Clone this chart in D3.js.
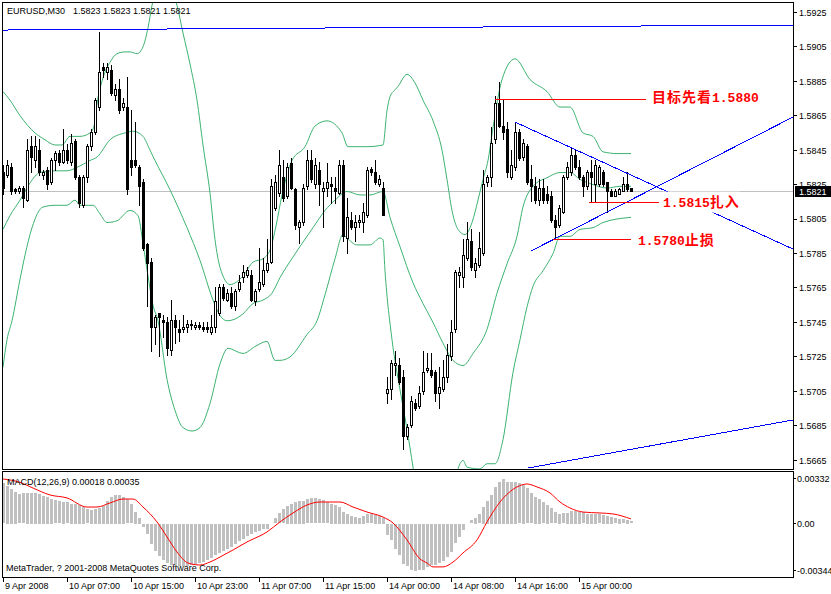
<!DOCTYPE html>
<html><head><meta charset="utf-8">
<script src="https://cdn.jsdelivr.net/npm/d3@7"></script>
<style>
html,body{margin:0;padding:0;background:#fff;}
svg{display:block;}
text{font-family:"Liberation Sans",Arial,sans-serif;}
</style></head><body>
<svg id="chart" width="831" height="594"></svg>
<script>
// ---------------- DATA ----------------
const symbol = "EURUSD,M30";
const opens = [1.5832,1.5830,1.5835,1.5822,1.5821,1.5823,1.5816,1.5847,1.5839,1.5845,1.5830,1.5833,1.5826,1.5839,1.5843,1.5838,1.5845,1.5838,1.5850,1.5829,1.5813,1.5829,1.5847,1.5855,1.5870,1.5893,1.5890,1.5891,1.5877,1.5880,1.5870,1.5870,1.5839,1.5839,1.5835,1.5826,1.5790,1.5780,1.5742,1.5750,1.5746,1.5745,1.5729,1.5746,1.5741,1.5741,1.5742,1.5743,1.5742,1.5743,1.5742,1.5742,1.5739,1.5742,1.5750,1.5765,1.5758,1.5762,1.5754,1.5764,1.5771,1.5772,1.5772,1.5757,1.5764,1.5767,1.5775,1.5780,1.5811,1.5820,1.5829,1.5818,1.5837,1.5822,1.5800,1.5803,1.5824,1.5839,1.5825,1.5833,1.5821,1.5823,1.5825,1.5823,1.5820,1.5836,1.5794,1.5804,1.5800,1.5803,1.5803,1.5807,1.5834,1.5832,1.5825,1.5823,1.5704,1.5706,1.5720,1.5720,1.5713,1.5679,1.5685,1.5698,1.5696,1.5705,1.5717,1.5717,1.5716,1.5704,1.5706,1.5713,1.5725,1.5741,1.5772,1.5771,1.5782,1.5792,1.5775,1.5778,1.5785,1.5826,1.5829,1.5851,1.5872,1.5859,1.5857,1.5829,1.5835,1.5855,1.5841,1.5847,1.5828,1.5824,1.5816,1.5823,1.5819,1.5818,1.5804,1.5801,1.5809,1.5829,1.5832,1.5842,1.5835,1.5829,1.5824,1.5832,1.5825,1.5825,1.5832,1.5826,1.5821,1.5818,1.5819,1.5821,1.5825,1.5823];
const highs = [1.5836,1.5839,1.5837,1.5823,1.5824,1.5824,1.5851,1.5853,1.5853,1.5851,1.5833,1.5835,1.5840,1.5844,1.5845,1.5857,1.5848,1.5854,1.5851,1.5830,1.5830,1.5848,1.5857,1.5875,1.5913,1.5895,1.5895,1.5894,1.5883,1.5886,1.5875,1.5887,1.5868,1.5861,1.5836,1.5828,1.5791,1.5782,1.5749,1.5750,1.5749,1.5748,1.5758,1.5749,1.5746,1.5749,1.5746,1.5746,1.5745,1.5745,1.5745,1.5745,1.5749,1.5765,1.5767,1.5767,1.5764,1.5765,1.5764,1.5772,1.5778,1.5777,1.5775,1.5764,1.5788,1.5782,1.5793,1.5828,1.5830,1.5845,1.5839,1.5837,1.5840,1.5823,1.5804,1.5825,1.5845,1.5845,1.5840,1.5838,1.5826,1.5837,1.5829,1.5829,1.5839,1.5839,1.5817,1.5809,1.5807,1.5807,1.5814,1.5835,1.5835,1.5839,1.5830,1.5826,1.5713,1.5723,1.5728,1.5724,1.5717,1.5686,1.5702,1.5700,1.5708,1.5728,1.5727,1.5727,1.5717,1.5719,1.5723,1.5732,1.5746,1.5775,1.5777,1.5793,1.5803,1.5799,1.5782,1.5797,1.5833,1.5830,1.5858,1.5876,1.5884,1.5874,1.5861,1.5845,1.5861,1.5857,1.5851,1.5848,1.5836,1.5829,1.5828,1.5828,1.5824,1.5821,1.5807,1.5813,1.5830,1.5838,1.5846,1.5845,1.5839,1.5830,1.5833,1.5839,1.5839,1.5836,1.5833,1.5826,1.5822,1.5822,1.5823,1.5829,1.5832,1.5823];
const lows = [1.5819,1.5829,1.5819,1.5820,1.5820,1.5812,1.5815,1.5832,1.5835,1.5830,1.5828,1.5822,1.5825,1.5833,1.5836,1.5837,1.5837,1.5836,1.5828,1.5812,1.5812,1.5826,1.5845,1.5854,1.5868,1.5887,1.5886,1.5877,1.5874,1.5866,1.5868,1.5819,1.5830,1.5835,1.5813,1.5787,1.5754,1.5728,1.5732,1.5725,1.5736,1.5726,1.5726,1.5733,1.5734,1.5739,1.5739,1.5741,1.5741,1.5741,1.5740,1.5739,1.5738,1.5739,1.5749,1.5758,1.5757,1.5753,1.5752,1.5763,1.5768,1.5771,1.5757,1.5755,1.5763,1.5766,1.5774,1.5779,1.5810,1.5818,1.5815,1.5817,1.5822,1.5799,1.5791,1.5801,1.5822,1.5826,1.5823,1.5813,1.5800,1.5818,1.5814,1.5814,1.5819,1.5792,1.5785,1.5799,1.5792,1.5800,1.5797,1.5806,1.5830,1.5825,1.5824,1.5807,1.5698,1.5700,1.5714,1.5709,1.5671,1.5677,1.5684,1.5694,1.5695,1.5703,1.5716,1.5713,1.5699,1.5695,1.5705,1.5710,1.5723,1.5739,1.5765,1.5765,1.5781,1.5775,1.5771,1.5777,1.5784,1.5824,1.5824,1.5849,1.5858,1.5851,1.5829,1.5828,1.5833,1.5839,1.5839,1.5825,1.5815,1.5814,1.5813,1.5814,1.5814,1.5803,1.5793,1.5800,1.5808,1.5828,1.5830,1.5834,1.5828,1.5818,1.5822,1.5815,1.5815,1.5824,1.5824,1.5809,1.5818,1.5818,1.5819,1.5821,1.5821,1.5821];
const closes = [1.5823,1.5836,1.5821,1.5821,1.5823,1.5817,1.5845,1.5841,1.5847,1.5832,1.5832,1.5825,1.5839,1.5843,1.5838,1.5845,1.5839,1.5849,1.5829,1.5814,1.5829,1.5847,1.5855,1.5874,1.5890,1.5891,1.5893,1.5878,1.5880,1.5868,1.5872,1.5822,1.5835,1.5836,1.5824,1.5788,1.5779,1.5742,1.5748,1.5748,1.5745,1.5730,1.5746,1.5742,1.5739,1.5742,1.5744,1.5744,1.5743,1.5742,1.5741,1.5741,1.5742,1.5757,1.5765,1.5759,1.5762,1.5754,1.5763,1.5768,1.5774,1.5775,1.5758,1.5763,1.5768,1.5775,1.5779,1.5824,1.5826,1.5836,1.5817,1.5835,1.5823,1.5801,1.5803,1.5823,1.5839,1.5828,1.5836,1.5825,1.5823,1.5826,1.5824,1.5821,1.5836,1.5795,1.5806,1.5800,1.5803,1.5804,1.5809,1.5833,1.5832,1.5826,1.5828,1.5807,1.5706,1.5721,1.5721,1.5710,1.5679,1.5684,1.5699,1.5695,1.5704,1.5716,1.5718,1.5714,1.5704,1.5707,1.5713,1.5726,1.5739,1.5774,1.5774,1.5784,1.5793,1.5777,1.5779,1.5788,1.5825,1.5829,1.5849,1.5872,1.5859,1.5855,1.5832,1.5836,1.5855,1.5840,1.5849,1.5826,1.5824,1.5816,1.5823,1.5816,1.5816,1.5804,1.5800,1.5811,1.5829,1.5835,1.5842,1.5835,1.5829,1.5824,1.5832,1.5829,1.5836,1.5835,1.5825,1.5821,1.5818,1.5821,1.5822,1.5825,1.5822,1.5821];

const timeLabels = ["9 Apr 2008","10 Apr 07:00","10 Apr 15:00","10 Apr 23:00","11 Apr 07:00","11 Apr 15:00","14 Apr 00:00","14 Apr 08:00","14 Apr 16:00","15 Apr 00:00"];
const timeLabelBars = [0,16,32,48,64,80,96,112,128,144];
const priceTicks = [1.5925,1.5905,1.5885,1.5865,1.5845,1.5825,1.5805,1.5785,1.5765,1.5745,1.5725,1.5705,1.5685,1.5665];

// Bollinger bands: [bar, price]
const bbUpper = [[0,1.5879],[1.75,1.5874],[4.25,1.5865],[8,1.5855],[10.5,1.5851],[13,1.5848],[14.75,1.5848],[16.75,1.5853],[19.25,1.5853],[21.75,1.5855],[22.75,1.5859],[23.5,1.5872],[25,1.5887],[26.75,1.5896],[28.5,1.5901],[30.5,1.5902],[31.75,1.5902],[33.5,1.5901],[35,1.5905],[36.25,1.5916],[37.25,1.5929],[38.25,1.5938],[40.5,1.5947],[42.25,1.5938],[43.5,1.5929],[45,1.5913],[46.75,1.5895],[48.5,1.5874],[50,1.5848],[51.75,1.5820],[53,1.5793],[54.25,1.5777],[56.75,1.5767],[60,1.5772],[62.5,1.5780],[65,1.5782],[66.75,1.5787],[68.25,1.5801],[69.75,1.5819],[72.25,1.5839],[75.5,1.5847],[78,1.5859],[81,1.5862],[84.75,1.5855],[86.25,1.5847],[91,1.5847],[95,1.5848],[96,1.5868],[96.75,1.5876],[98,1.5880],[98.75,1.5882],[101,1.5889],[103,1.5884],[105,1.5874],[107.5,1.5862],[109.75,1.5845],[111,1.5828],[112.25,1.5810],[113.75,1.5799],[115.5,1.5796],[117.25,1.5803],[118.75,1.5816],[120,1.5828],[121.25,1.5839],[122.5,1.5858],[124.75,1.5886],[128,1.5898],[131.75,1.5886],[136,1.5879],[139.25,1.5870],[141.75,1.5870],[145,1.5855],[147.5,1.5853],[150,1.5844],[153.75,1.5843],[157,1.5843]];
const bbMiddle = [[0,1.5799],[1.75,1.5807],[4.25,1.5816],[6.75,1.5826],[9.25,1.5832],[13,1.5833],[16,1.5833],[18.5,1.5835],[21.75,1.5839],[23.5,1.5841],[26.75,1.5851],[30.5,1.5855],[32.5,1.5856],[35,1.5853],[36.75,1.5845],[38,1.5839],[41.75,1.5822],[46,1.5800],[49.25,1.5781],[52.5,1.5758],[54.25,1.5749],[56,1.5746],[58,1.5747],[60,1.5750],[62.5,1.5756],[65,1.5758],[67.25,1.5762],[69.25,1.5771],[72.5,1.5783],[77.5,1.5800],[80.5,1.5810],[83,1.5816],[86,1.5821],[89.25,1.5819],[91.75,1.5819],[95,1.5821],[96.75,1.5806],[99.25,1.5789],[102.5,1.5768],[105,1.5756],[107.5,1.5745],[110,1.5733],[112.5,1.5723],[115,1.5720],[117.5,1.5727],[121,1.5741],[123.5,1.5762],[126,1.5779],[128.5,1.5795],[130,1.5812],[132.5,1.5824],[136,1.5829],[139.25,1.5832],[141.75,1.5832],[144.25,1.5828],[147.5,1.5825],[151,1.5823],[154.25,1.5824],[157,1.5824]];
const bbLower = [[0,1.5719],[1,1.5735],[2.25,1.5746],[4.25,1.5770],[5.5,1.5784],[7.25,1.5800],[10,1.5812],[13,1.5813],[16,1.5813],[18,1.5816],[19.25,1.5813],[22.5,1.5813],[24.25,1.5808],[26,1.5803],[28.5,1.5804],[31.75,1.5810],[33.75,1.5807],[35,1.5791],[36.25,1.5772],[37.5,1.5755],[38.75,1.5746],[41,1.5712],[43,1.5694],[45,1.5684],[47.25,1.5682],[49.25,1.5684],[51.75,1.5698],[54.25,1.5721],[56.25,1.5730],[60,1.5727],[63,1.5731],[66,1.5734],[68,1.5723],[69.25,1.5723],[71.75,1.5725],[76,1.5738],[78.5,1.5746],[80.5,1.5761],[83,1.5782],[85,1.5796],[86,1.5794],[88.5,1.5790],[91.75,1.5790],[94.25,1.5794],[95,1.5793],[95.5,1.5775],[97.25,1.5735],[99.25,1.5706],[101,1.5683],[102.5,1.5661],[103.75,1.5642],[106.75,1.5619],[110.5,1.5630],[113,1.5654],[114.25,1.5663],[115,1.5665],[116,1.5661],[119.25,1.5660],[121,1.5663],[123,1.5663],[125,1.5677],[127.5,1.5716],[129.25,1.5735],[131,1.5754],[132.5,1.5766],[135,1.5775],[137.5,1.5785],[139.25,1.5795],[141.75,1.5795],[144.25,1.5799],[147.5,1.5800],[150,1.5803],[157,1.5806]];

// MACD(12,26,9): main values drawn as histogram, signal as line
const macdMain = [0.00298,0.00280,0.00256,0.00236,0.00216,0.00224,0.00226,0.00226,0.00226,0.00221,0.00207,0.00197,0.00184,0.00172,0.00165,0.00162,0.00157,0.00148,0.00145,0.00138,0.00123,0.00106,0.00101,0.00108,0.00118,0.00133,0.00167,0.00197,0.00211,0.00211,0.00197,0.00180,0.00143,0.00089,0.00044,-0.00025,-0.00076,-0.00145,-0.00202,-0.00236,-0.00266,-0.00285,-0.00300,-0.00305,-0.00310,-0.00312,-0.00312,-0.00305,-0.00295,-0.00290,-0.00278,-0.00266,-0.00253,-0.00231,-0.00211,-0.00197,-0.00182,-0.00167,-0.00148,-0.00128,-0.00108,-0.00089,-0.00074,-0.00059,-0.00049,-0.00039,-0.00034,0.00002,0.00039,0.00076,0.00106,0.00133,0.00145,0.00162,0.00170,0.00167,0.00180,0.00187,0.00187,0.00180,0.00172,0.00157,0.00148,0.00138,0.00123,0.00089,0.00074,0.00059,0.00049,0.00044,0.00059,0.00069,0.00069,0.00064,0.00059,0.00044,-0.00079,-0.00120,-0.00182,-0.00231,-0.00293,-0.00310,-0.00338,-0.00344,-0.00340,-0.00336,-0.00317,-0.00305,-0.00300,-0.00285,-0.00270,-0.00243,-0.00207,-0.00138,-0.00096,-0.00047,0.00003,0.00025,0.00044,0.00069,0.00123,0.00167,0.00211,0.00270,0.00310,0.00330,0.00310,0.00310,0.00310,0.00298,0.00285,0.00261,0.00224,0.00199,0.00182,0.00157,0.00138,0.00113,0.00084,0.00074,0.00076,0.00079,0.00093,0.00093,0.00089,0.00084,0.00074,0.00074,0.00074,0.00069,0.00064,0.00059,0.00052,0.00039,0.00034,0.00032,0.00027,0.00018];
const macdSignal = [[0,0.00330],[4.25,0.00305],[7.5,0.00263],[11.75,0.00212],[16,0.00190],[21,0.00123],[23.5,0.00123],[26.75,0.00153],[30,0.00182],[32.5,0.00182],[35,0.00123],[38.5,0.00013],[41,-0.00098],[43.5,-0.00209],[46.25,-0.00290],[49.25,-0.00305],[51.75,-0.00283],[54.25,-0.00246],[57.5,-0.00194],[61,-0.00135],[66,-0.00061],[69.25,0.00013],[72.5,0.00079],[76,0.00138],[79.25,0.00160],[84.25,0.00160],[87.5,0.00123],[91,0.00086],[95,0.00049],[97.5,0.00005],[101,-0.00120],[104.25,-0.00260],[106,-0.00290],[107.5,-0.00319],[110,-0.00319],[112.5,-0.00283],[115,-0.00216],[118.5,-0.00120],[121,0.00013],[124.25,0.00160],[128.5,0.00271],[131,0.00293],[133.5,0.00271],[136.75,0.00227],[139.25,0.00160],[141.75,0.00116],[145,0.00086],[149.25,0.00079],[152.5,0.00072],[157,0.00035]];
const macdTicks = [0.00332,0,-0.00344];
const macdTickLabels = ["0.00332","0.00","-0.00344"];

// Hand-drawn objects: [bar, price]
const resistanceLine = [[-0.25,1.59147],[197.5,1.59176]];
const supportLine = [[131.25,1.56605],[197.5,1.56884]];
const triangleUpper = [[128,1.58613],[197.5,1.57876]];
const triangleLower = [[132,1.57865],[197.5,1.58642]];
const targetLine = [[123,1.58744],[160.75,1.58744]];
const entryLine = [[146.5,1.58147],[164,1.58147]];
const stopLine = [[137.5,1.57929],[157,1.57929]];
const annotations = [
  {parts:[["目标先看","cjk"],["1.5880","num"]], bar:162.25, price:1.58729},
  {parts:[["1.5815","num"],["扎入","cjk"]], bar:165, price:1.58122},
  {parts:[["1.5780","num"],["止损","cjk"]], bar:158.75, price:1.57900}
];
const copyright = "MetaTrader, ? 2001-2008 MetaQuotes Software Corp.";

// ---------------- DRAW ----------------
const svg = d3.select("#chart");
const x = d3.scaleLinear().domain([0,157]).range([3,631]);
const y = d3.scaleLinear().domain([1.5665,1.5925]).range([460.3,12.3]);
const ym = d3.scaleLinear().domain([-0.00344,0.00332]).range([570.3,478.7]);
const px = v => Math.round(v);
const row = v => Math.floor(v);

svg.append("rect").attr("width",831).attr("height",594).attr("fill","#fff");
const defs = svg.append("defs");
defs.append("clipPath").attr("id","clipMain").append("rect").attr("x",3).attr("y",3).attr("width",790).attr("height",466);
defs.append("clipPath").attr("id","clipMacd").append("rect").attr("x",3).attr("y",472).attr("width",790).attr("height",105);

const main = svg.append("g").attr("clip-path","url(#clipMain)");
const lastClose = closes[closes.length-1];

// current price line
main.append("rect").attr("x",3).attr("width",790)
  .attr("y",row(y(lastClose))).attr("height",1)
  .attr("fill","#c0c0c0").attr("shape-rendering","crispEdges");

// Bollinger bands
const bandLine = d3.line().x(d=>x(d[0])).y(d=>y(d[1])).curve(d3.curveMonotoneX);
[bbUpper,bbMiddle,bbLower].forEach(b=>{
  main.append("path").attr("d",bandLine(b)).attr("fill","none")
    .attr("stroke","#3cb371").attr("stroke-width",1);
});

// candles
const cg = main.append("g").attr("shape-rendering","crispEdges");
opens.forEach((o,i)=>{
  const c = px(x(i));
  const yo=row(y(o)), yc=row(y(closes[i])), yh=row(y(highs[i])), yl=row(y(lows[i]));
  cg.append("rect").attr("x",c).attr("width",1).attr("y",yh).attr("height",yl-yh+1).attr("fill","#000");
  const top=Math.min(yo,yc), bot=Math.max(yo,yc);
  if (closes[i] > o) {
    cg.append("rect").attr("x",c-0.5).attr("y",top+0.5).attr("width",2).attr("height",Math.max(bot-top,1))
      .attr("fill","#fff").attr("stroke","#000");
  } else if (closes[i] < o) {
    cg.append("rect").attr("x",c-1).attr("y",top).attr("width",3).attr("height",bot-top+1).attr("fill","#000");
  } else {
    cg.append("rect").attr("x",c-1).attr("y",top).attr("width",3).attr("height",1).attr("fill","#000");
  }
});

// trend lines
const segLine = d3.line().x(d=>x(d[0])).y(d=>y(d[1]));
[resistanceLine,supportLine,triangleUpper,triangleLower].forEach(l=>{
  main.append("path").attr("d",segLine(l)).attr("stroke","#0000ff").attr("stroke-width",1)
    .attr("fill","none").attr("shape-rendering","crispEdges");
});
[targetLine,entryLine,stopLine].forEach(l=>{
  const x1 = Math.round(x(l[0][0])), x2 = Math.round(x(l[1][0]));
  main.append("rect").attr("x",x1).attr("width",x2-x1)
    .attr("y",row(y(l[0][1]))).attr("height",1)
    .attr("fill","#ff0000").attr("shape-rendering","crispEdges");
});

// annotations (opaque text boxes)
annotations.forEach(a=>{
  const g = main.append("g");
  const t = g.append("text").attr("x",x(a.bar)).attr("y",y(a.price))
    .attr("fill","#ff0000").attr("font-weight","bold");
  a.parts.forEach(p=>{
    const ts = t.append("tspan").text(p[0]);
    if (p[1]==="cjk") ts.attr("font-family","'Noto Sans CJK SC',sans-serif").attr("font-size",14).attr("letter-spacing",1);
    else ts.attr("font-family","'Liberation Mono',monospace").attr("font-size",13);
  });
  const bb = t.node().getBBox();
  g.insert("rect","text").attr("x",bb.x).attr("y",bb.y+1).attr("width",bb.width).attr("height",bb.height+1).attr("fill","#fff");
});

// title
svg.append("text").attr("x",7).attr("y",14).attr("font-size",9).text(symbol);
svg.append("text").attr("x",73).attr("y",14).attr("font-size",9)
  .text([opens,highs,lows,closes].map(a=>a[a.length-1].toFixed(4)).join(" "));

// MACD panel
const mg = svg.append("g").attr("clip-path","url(#clipMacd)");
const zero = ym(0);
mg.append("g").attr("shape-rendering","crispEdges").selectAll("rect").data(macdMain).join("rect")
  .attr("x",(d,i)=>px(x(i))-1).attr("width",3)
  .attr("y",d=>Math.round(Math.min(ym(d),zero))).attr("height",d=>Math.max(Math.round(Math.abs(ym(d)-zero)),0))
  .attr("fill","#c0c0c0");
mg.append("path").attr("d",d3.line().x(d=>x(d[0])).y(d=>ym(d[1])).curve(d3.curveMonotoneX)(macdSignal))
  .attr("fill","none").attr("stroke","#ff0000").attr("stroke-width",1);
svg.append("text").attr("x",7).attr("y",484.5).attr("font-size",9)
  .text("MACD(12,26,9) " + macdMain[macdMain.length-1].toFixed(5) + " " + macdSignal[macdSignal.length-1][1].toFixed(5));
svg.append("text").attr("x",6).attr("y",571).attr("font-size",9).text(copyright);

// frames
svg.append("rect").attr("x",2.5).attr("y",2.5).attr("width",791).attr("height",467)
  .attr("fill","none").attr("stroke","#000").attr("shape-rendering","crispEdges");
svg.append("rect").attr("x",2.5).attr("y",471.5).attr("width",791).attr("height",106)
  .attr("fill","none").attr("stroke","#000").attr("shape-rendering","crispEdges");

// price axis
const axg = svg.append("g");
priceTicks.forEach(p=>{
  const yy = row(y(p));
  axg.append("rect").attr("x",794).attr("width",3).attr("y",yy).attr("height",1).attr("fill","#000").attr("shape-rendering","crispEdges");
  axg.append("text").attr("x",799).attr("y",y(p)+3.4).attr("font-size",9).text(p.toFixed(4));
});
// current price marker
const cy = row(y(lastClose));
axg.append("rect").attr("x",795).attr("y",cy-5).attr("width",36).attr("height",11).attr("fill","#000");
axg.append("text").attr("x",799).attr("y",cy+4).attr("font-size",9).attr("fill","#fff").text(lastClose.toFixed(4));

// macd axis
macdTicks.forEach((v,k)=>{
  const yy = row(ym(v));
  axg.append("rect").attr("x",794).attr("width",2).attr("y",yy).attr("height",1).attr("fill","#000").attr("shape-rendering","crispEdges");
  axg.append("text").attr("x",797).attr("y",ym(v)+3.6).attr("font-size",9).text(macdTickLabels[k]);
});

// time axis
timeLabelBars.forEach((b,k)=>{
  const xx = px(x(b));
  axg.append("rect").attr("x",xx).attr("width",1).attr("y",578).attr("height",4).attr("fill","#000").attr("shape-rendering","crispEdges");
  axg.append("text").attr("x",xx+2).attr("y",588.5).attr("font-size",9).text(timeLabels[k]);
});
</script>
</body></html>
